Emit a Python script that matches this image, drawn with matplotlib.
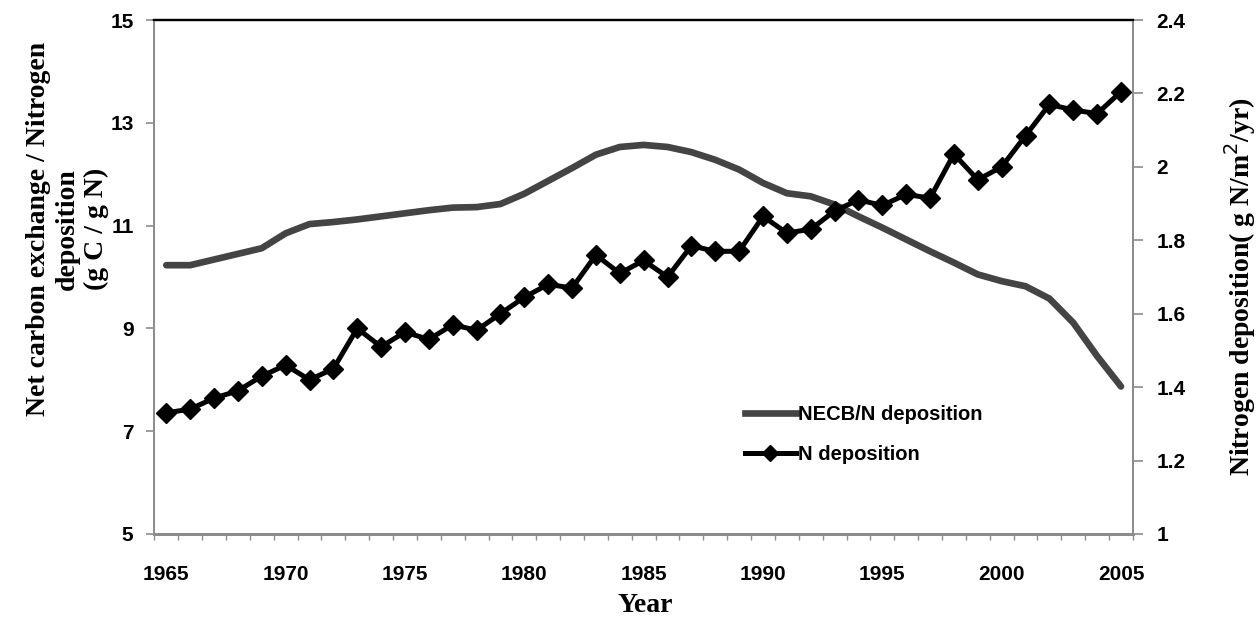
import numpy as np
import matplotlib
matplotlib.use("Agg")
import matplotlib.pyplot as plt
from matplotlib.lines import Line2D

years = list(range(1965, 2006))

# NECB / N deposition ratio (g C / g N), left axis
necb_ratio = [10.23, 10.23, 10.34, 10.45, 10.56, 10.85, 11.03, 11.07, 11.12, 11.18,
              11.24, 11.30, 11.35, 11.36, 11.42, 11.62, 11.87, 12.12, 12.38, 12.53,
              12.57, 12.53, 12.43, 12.28, 12.09, 11.83, 11.63, 11.57, 11.41, 11.18,
              10.96, 10.73, 10.50, 10.28, 10.05, 9.92, 9.82, 9.58, 9.11, 8.46,
              7.87]

# N deposition (g N/m2/yr), right axis
n_dep = [1.33, 1.34, 1.37, 1.39, 1.43, 1.46, 1.42, 1.45, 1.56, 1.51,
         1.55, 1.53, 1.57, 1.555, 1.60, 1.645, 1.68, 1.67, 1.76, 1.71,
         1.745, 1.70, 1.785, 1.77, 1.77, 1.865, 1.82, 1.83, 1.88, 1.91,
         1.895, 1.925, 1.915, 2.035, 1.965, 2.00, 2.085, 2.17, 2.155, 2.145,
         2.205]

left_ticks = [5, 7, 9, 11, 13, 15]
right_ticks = [1, 1.2, 1.4, 1.6, 1.8, 2, 2.2, 2.4]
right_ticklabels = ["1", "1.2", "1.4", "1.6", "1.8", "2", "2.2", "2.4"]
year_labels = [1965, 1970, 1975, 1980, 1985, 1990, 1995, 2000, 2005]

sans = "Liberation Sans"
serif = "Liberation Serif"
spine_grey = "#8c8c8c"

fig = plt.figure(figsize=(12.58, 6.22), dpi=100)
ax = fig.add_axes([0.1227, 0.1415, 0.7779, 0.8263])
ax2 = ax.twinx()

x = np.arange(len(years))
ax.plot(x, necb_ratio, color="#444444", lw=4.8, solid_joinstyle="round",
        solid_capstyle="round", zorder=2)
ax2.plot(x, n_dep, color="black", lw=3.6, marker="D", markersize=10,
         solid_joinstyle="round", zorder=3)

ax.set_xlim(-0.5, len(years) - 0.5)
ax.set_ylim(5, 15)
ax2.set_ylim(1, 2.4)

# x axis: labels every 5 years at the points, small ticks between categories
ax.set_xticks([years.index(y) for y in year_labels])
ax.set_xticklabels([str(y) for y in year_labels])
ax.set_xticks(np.arange(-0.5, len(years), 1), minor=True)
ax.tick_params(axis="x", which="major", length=0, pad=22)
ax.tick_params(axis="x", which="minor", length=4, width=1, color=spine_grey,
               direction="out")

ax.set_yticks(left_ticks)
ax.set_yticklabels([str(t) for t in left_ticks])
ax.tick_params(axis="y", length=6, width=1.2, color=spine_grey, pad=9)
ax2.set_yticks(right_ticks)
ax2.set_yticklabels(right_ticklabels)
ax2.tick_params(axis="y", length=7, width=1.2, color=spine_grey, pad=10)

for a in (ax, ax2):
    for lab in a.get_xticklabels() + a.get_yticklabels():
        lab.set_fontfamily(sans)
        lab.set_fontweight("bold")
        lab.set_fontsize(15)

for a in (ax, ax2):
    a.spines["left"].set_color(spine_grey)
    a.spines["left"].set_linewidth(1.3)
    a.spines["bottom"].set_color(spine_grey)
    a.spines["bottom"].set_linewidth(2)
    a.spines["right"].set_color(spine_grey)
    a.spines["right"].set_linewidth(1.3)
    a.spines["top"].set_color("black")
    a.spines["top"].set_linewidth(1.6)

fig.text(0.0535, 0.632, "Net carbon exchange / Nitrogen\ndeposition\n(g C / g N)",
         rotation=90, ha="center", va="center", multialignment="center",
         fontfamily=serif, fontweight="bold", fontsize=20, linespacing=1.22)
fig.text(0.9855, 0.539, "Nitrogen deposition( g N/m$^{2}$/yr)",
         rotation=90, ha="center", va="center",
         fontfamily=serif, fontweight="bold", fontsize=20)
fig.text(0.5127, 0.026, "Year", ha="center", va="center",
         fontfamily=serif, fontweight="bold", fontsize=20)

handles = [Line2D([], [], color="#444444", lw=4.8),
           Line2D([], [], color="black", lw=3.6, marker="D", markersize=8)]
fig.legend(handles, ["NECB/N deposition", "N deposition"],
           loc="upper left", bbox_to_anchor=(0.578, 0.378), frameon=False,
           handlelength=2.5, handletextpad=0.1, labelspacing=1.05,
           prop={"family": sans, "weight": "bold", "size": 14.5})

fig.savefig("out.png", dpi=100)
